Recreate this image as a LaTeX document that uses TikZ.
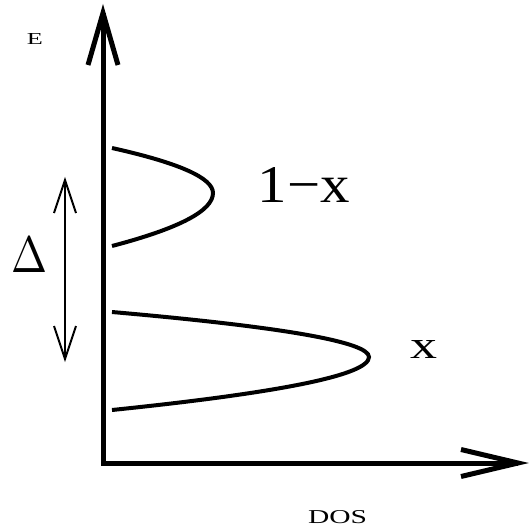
\documentclass[tikz,border=0pt]{standalone}
\usepackage[no-math]{fontspec}
\usepackage{graphicx}
\setmainfont{Liberation Serif}
\begin{document}
\begin{tikzpicture}[x=1pt,y=-1pt,
  axis/.style={line width=5pt, miter limit=20},
  band/.style={line width=4pt},
  gaparrow/.style={line width=2pt, miter limit=20},
  lbl/.style={inner sep=0pt, anchor=base}]
\useasboundingbox (0,0) rectangle (530,531);
% axes
\coordinate (O) at (103,463);
\coordinate (Etip) at (103,13);
\coordinate (Dtip) at (518,463);
\draw[axis] (Etip) -- (O) -- (Dtip);
\draw[axis] ([shift={(-15,52)}]Etip) -- (Etip) -- ([shift={(15,52)}]Etip);
\draw[axis] ([shift={(-57,-13.5)}]Dtip) -- (Dtip) -- ([shift={(-57,13.5)}]Dtip);
% gap arrow
\coordinate (gtop) at (65,180);
\coordinate (gbot) at (65,359);
\draw[gaparrow] (gtop) -- (gbot);
\draw[gaparrow] ([shift={(-11,33)}]gtop) -- (gtop) -- ([shift={(11,33)}]gtop);
\draw[gaparrow] ([shift={(-11,-33)}]gbot) -- (gbot) -- ([shift={(11,-33)}]gbot);
% bands
\draw[band] (112,148) .. controls (179.3,163) and (213,178) .. (213,193)
  .. controls (213,210.7) and (179.3,228.3) .. (112,246);
\draw[band] (112,312) .. controls (283.3,327) and (369,342) .. (369,357)
  .. controls (369,374.7) and (283.3,392.3) .. (112,410);
% labels
\node[lbl] (E) at (35,44) {\resizebox{16pt}{11pt}{E}};
\node[lbl] (dos) at (337.5,523) {\resizebox{59pt}{13pt}{DOS}};
\node[lbl] (onemx) at (304,202) {\resizebox{92pt}{35pt}{1−x}};
\node[lbl] (xlab) at (423.5,358) {\resizebox{27pt}{18pt}{x}};
\node[lbl] (gap) at (30,272) {\resizebox{36pt}{35pt}{$\Delta$}};
\end{tikzpicture}
\end{document}
